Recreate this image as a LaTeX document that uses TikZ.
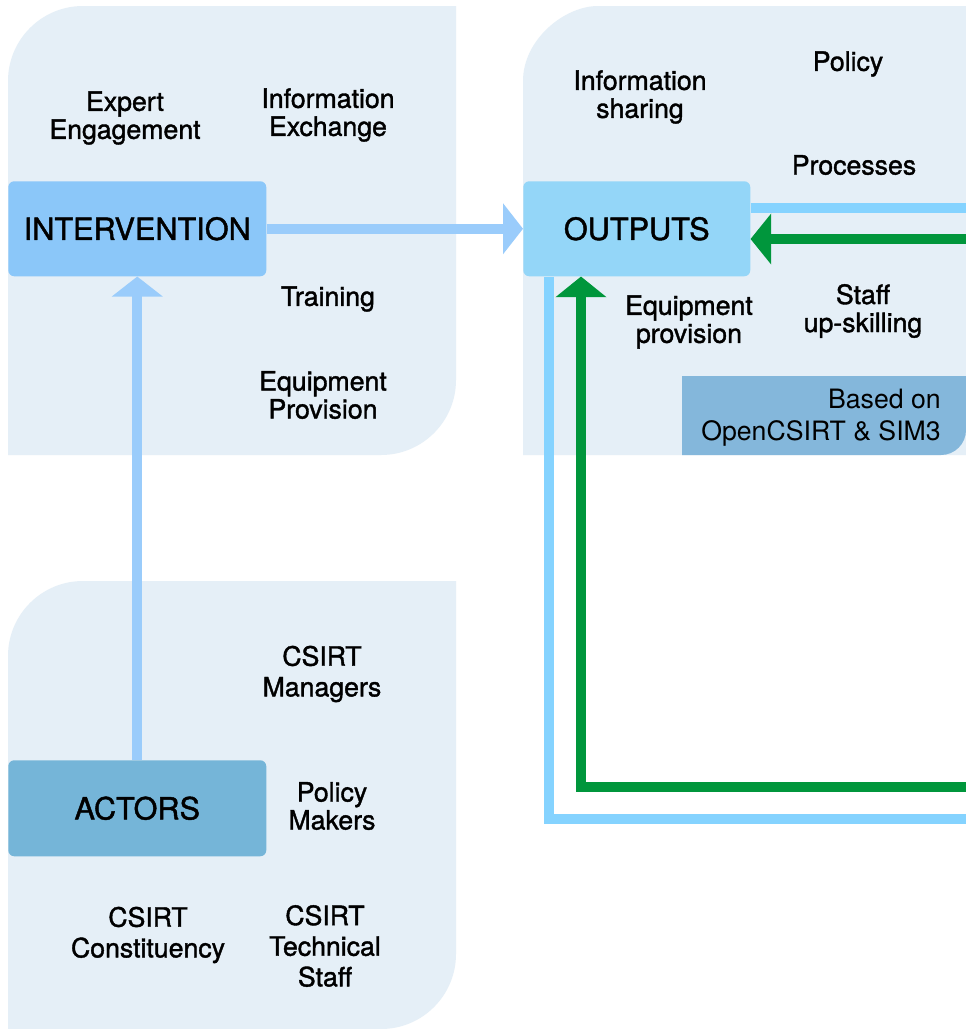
\documentclass[tikz,border=0pt]{standalone}
\usepackage{fontspec}
\setmainfont{TeX Gyre Heros}
\newfontfamily\medfont{TeX Gyre Heros}[FakeBold=1.4]
\usetikzlibrary{arrows.meta}
\definecolor{panelbg}{HTML}{E5EFF7}
\definecolor{intfill}{HTML}{8BC7F9}
\definecolor{outfill}{HTML}{94D6F8}
\definecolor{actfill}{HTML}{75B5D8}
\definecolor{basedfill}{HTML}{84B7DB}
\definecolor{arrblue}{HTML}{9ACCFB}
\definecolor{lineblue}{HTML}{85D3FF}
\definecolor{arrgreen}{HTML}{00963C}
\begin{document}
\begin{tikzpicture}[x=0.75pt,y=-0.75pt,
  panel/.style={fill=panelbg},
  box/.style={anchor=north west, inner sep=0pt, rounded corners=4.5pt,
    minimum height=71.25pt, font=\medfont\fontsize{23pt}{26pt}\selectfont},
  lbl/.style={align=center, inner sep=0pt, font=\medfont\fontsize{20pt}{21pt}\selectfont},
  lblw/.style={align=center, inner sep=0pt, font=\medfont\fontsize{20pt}{23pt}\selectfont},
  bluearr/.style={draw=arrblue, line width=7.5pt, -{Triangle[length=15pt,width=37.5pt]}},
  blueline/.style={draw=lineblue, line width=7.5pt, line join=miter},
  greenarr/.style={draw=arrgreen, line width=7.5pt, line join=miter, -{Triangle[length=15.5pt,width=37.5pt]}}
]
\useasboundingbox (0,0) rectangle (966,1029);
\fill[white] (0,0) rectangle (966,1029);

% panels
\fill[panel] (8,455) -- (8,81) .. controls (8,39.6) and (41.6,6) .. (83,6) -- (456,6) -- (456,380) .. controls (456,421.4) and (422.4,455) .. (381,455) -- cycle;
\fill[panel] (523,455) -- (523,81) .. controls (523,39.6) and (564.4,6) .. (598,6) -- (966,6) -- (966,455) -- cycle;
\fill[panel] (8,1029) -- (8,656) .. controls (8,614.6) and (41.6,581) .. (83,581) -- (456,581) -- (456,954) .. controls (456,995.4) and (422.4,1029) .. (381,1029) -- cycle;
\fill[basedfill] (682,376) -- (966,376) -- (966,430) .. controls (966,443.8) and (954.8,455) .. (941,455) -- (682,455) -- cycle;

% main boxes
\node[box, fill=intfill, minimum width=193.5pt] (INT) at (8,181) {INTERVENTION};
\node[box, fill=outfill, minimum width=170.25pt] (OUT) at (523,181) {OUTPUTS};
\node[box, fill=actfill, minimum width=193.5pt, minimum height=72pt] (ACT) at (8,760) {ACTORS};

% labels
\node[lbl] (l1) at (125,118) {Expert\\Engagement};
\node[lbl] (l2) at (328,115) {Information\\Exchange};
\node[lbl] (l3) at (328,299) {Training};
\node[lbl] (l4) at (323,395) {Equipment\\Provision};
\node[lbl] (l5) at (640,97) {Information\\sharing};
\node[lbl] (l6) at (848,64) {Policy};
\node[lbl] (l7) at (854,165) {Processes};
\node[lbl] (l8) at (689,322) {Equipment\\provision};
\node[lbl] (l9) at (863,311) {Staff\\up-skilling};
\node[align=right, anchor=east, inner sep=0pt, font=\fontsize{20pt}{24pt}\selectfont] (based) at (941,418) {Based on\\OpenCSIRT \& SIM3};
\node[lblw] (l10) at (322,674) {CSIRT\\Managers};
\node[lbl] (l11) at (332,806) {Policy\\Makers};
\node[lblw] (l12) at (148,935) {CSIRT\\Constituency};
\node[lblw] (l13) at (325,946) {CSIRT\\Technical\\Staff};

% free ends
\coordinate (bR1) at (966,208);
\coordinate (bC) at (549,819);
\coordinate (bR2) at (966,819);
\coordinate (gR1) at (966,239);
\coordinate (gC) at (581,787);
\coordinate (gR2) at (966,787);

% connectors
\draw[bluearr] (INT.east) -- (OUT.west);
\draw[bluearr] (ACT.north) -- (INT.south);
\draw[blueline] (OUT.east |- bR1) -- (bR1);
\draw[blueline] (OUT.south -| bC) -- (bC) -- (bR2);
\draw[greenarr] (gR1) -- (OUT.east |- gR1);
\draw[greenarr] (gR2) -- (gC) -- (OUT.south -| gC);
\end{tikzpicture}
\end{document}
